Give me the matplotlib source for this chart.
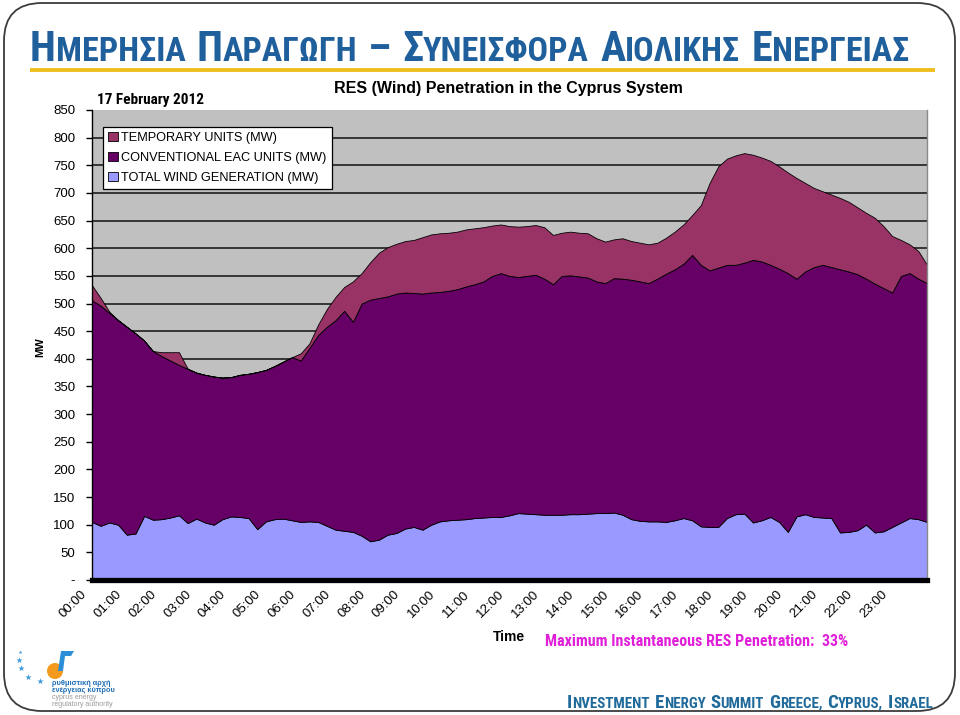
import numpy as np
import matplotlib
matplotlib.use('Agg')
import matplotlib.pyplot as plt
from matplotlib import font_manager as fm
from matplotlib.patches import FancyBboxPatch, Circle, Polygon
from matplotlib.transforms import ScaledTranslation

# ---------------- data (MW, 15-minute resolution, 00:00 .. 24:00) ----------------
hours = np.arange(0, 24.01, 0.25)
hour_labels = ['%02d:00' % h for h in range(24)]

wind = [105, 98, 104, 100,   82, 84, 116, 109,   110, 113, 117, 103,   111, 104, 100, 110,
        115, 114, 112, 92,   106, 110, 111, 108,   105, 106, 105, 98,   91, 89, 87, 80,
        70, 73, 82, 85,      93, 96, 91, 100,      106, 108, 109, 110,  112, 113, 114, 114,
        117, 121, 120, 119,  118, 118, 118, 119,   119, 120, 121, 121,  122, 118, 110, 107,
        106, 106, 105, 108,  112, 108, 97, 96,     96, 112, 119, 120,   104, 108, 114, 105,
        87, 115, 119, 114,   113, 112, 86, 87,     90, 100, 86, 88,     96, 104, 112, 110,
        105]

conventional = [401, 398, 379, 370,  376, 362, 317, 305,  295, 284, 272, 279,  264, 267, 268, 256,
                252, 257, 261, 284,  274, 277, 284, 295,  292, 314, 338, 360,  379, 398, 380, 420,
                437, 437, 431, 433,  427, 423, 427, 420,  415, 415, 417, 421,  423, 427, 436, 441,
                433, 427, 430, 433,  427, 417, 432, 432,  430, 427, 419, 416,  424, 427, 433, 433,
                431, 439, 449, 454,  460, 480, 473, 464,  469, 458, 451, 454,  475, 468, 456, 458,
                468, 430, 439, 452,  457, 454, 476, 471,  463, 445, 450, 440,  424, 446, 443, 435,
                432]

temporary = [27, 14, 2, 0,     0, 0, 0, 0,       7, 15, 23, 0,     0, 0, 0, 0,
             0, 0, 0, 0,       0, 0, 0, 0,       13, 8, 19, 32,    42, 43, 73, 55,
             68, 82, 89, 90,   93, 96, 102, 105, 106, 105, 104, 103, 101, 98, 91, 88,
             90, 91, 90, 90,   93, 89, 78, 79,   79, 80, 78, 75,   70, 73, 70, 70,
             70, 65, 65, 68,   71, 72, 108, 158, 183, 192, 198, 198, 190, 188, 188, 185,
             182, 182, 160, 143, 133, 131, 129, 126, 121, 119, 119, 112, 102, 65, 52, 50,
             33]

series_labels = ['TOTAL WIND GENERATION (MW)', 'CONVENTIONAL EAC UNITS (MW)', 'TEMPORARY UNITS (MW)']
series_colors = ['#9999FF', '#660066', '#993366']
y_ticks = list(range(0, 851, 50))
y_ticklabels = ['-'] + [str(v) for v in y_ticks[1:]]

W, H = 960, 715


def pick(cands, default='DejaVu Sans'):
    for c in cands:
        try:
            fm.findfont(fm.FontProperties(family=c), fallback_to_default=False)
            return c
        except Exception:
            pass
    return default


ARIAL = pick(['Liberation Sans', 'Arial'])
NARROW = pick(['Liberation Sans Narrow', 'Arial Narrow', 'Roboto Condensed'], ARIAL)
TITLEF = NARROW

fig = plt.figure(figsize=(9.6, 7.15), dpi=100)
fig.patch.set_facecolor('white')

# overlay for slide decorations
ov = fig.add_axes([0, 0, 1, 1])
ov.set_xlim(0, W)
ov.set_ylim(H, 0)
ov.axis('off')
ov.set_zorder(0)
ov.add_patch(FancyBboxPatch((4, 3), 951, 708, boxstyle='round,pad=0,rounding_size=38',
                            fill=False, ec='#3c3c3c', lw=1.3))
ov.plot([30, 935], [70, 70], color='#F0BE1E', lw=2.8, solid_capstyle='butt')

# logo
for (sx, sy, ss) in [(20, 652, 8), (19, 660, 22), (21, 668, 22), (28, 677, 22), (40, 681, 22)]:
    ov.scatter([sx], [sy], marker='*', s=ss, color='#3A9AD9', lw=0)
ov.add_patch(Circle((55, 671), 8, color='#F39A1E', lw=0))
ov.add_patch(Polygon([(58, 671), (61, 651), (74, 651), (71, 656), (65, 656), (63, 671)],
                     closed=True, color='#2A8FD8', lw=0))
fig.text(52 / W, 1 - 685 / H, 'ρυθμιστική αρχή', fontsize=5.3, color='#1F6FB8',
         fontweight='bold', family=ARIAL, va='baseline')
fig.text(52 / W, 1 - 692 / H, 'ενέργειας κύπρου', fontsize=5.3, color='#1F6FB8',
         fontweight='bold', family=ARIAL, va='baseline')
fig.text(52 / W, 1 - 699 / H, 'cyprus energy', fontsize=5, color='#9a9a9a',
         family=ARIAL, va='baseline')
fig.text(52 / W, 1 - 706 / H, 'regulatory authority', fontsize=5, color='#9a9a9a',
         family=ARIAL, va='baseline')

renderer = fig.canvas.get_renderer()


def smallcaps(words, x0, x1, y_base, big, small, color, family, weight='normal'):
    """words: list of (first, rest). Draws small-caps text fitted between x0 and x1."""
    def build(scale):
        objs = []
        x = x0
        for i, (a, b) in enumerate(words):
            for s, sz in ((a, big * scale), (b, small * scale)):
                if not s:
                    continue
                t = fig.text(x / W, 1 - y_base / H, s, fontsize=sz, color=color,
                             family=family, fontweight=weight, va='baseline', ha='left')
                objs.append(t)
                x += t.get_window_extent(renderer).width
            x += 0.26 * big * scale * 100 / 72
        x -= 0.26 * big * scale * 100 / 72
        return objs, x
    objs, xe = build(1.0)
    scale = (x1 - x0) / (xe - x0)
    for o in objs:
        o.remove()
    build(scale)


smallcaps([('Η', 'ΜΕΡΗΣΙΑ'), ('Π', 'ΑΡΑΓΩΓΗ'), ('–', ''), ('Σ', 'ΥΝΕΙΣΦΟΡΑ'),
           ('Α', 'ΙΟΛΙΚΗΣ'), ('Ε', 'ΝΕΡΓΕΙΑΣ')],
          30, 910, 61, 29, 23.5, '#1F5F9C', TITLEF, 'bold')
smallcaps([('I', 'NVESTMENT'), ('E', 'NERGY'), ('S', 'UMMIT'), ('G', 'REECE,'),
           ('C', 'YPRUS,'), ('I', 'SRAEL')],
          567, 933, 708, 15, 12, '#1F6A9A', TITLEF, 'bold')

# ---------------- main chart ----------------
left, right, top, bottom = 92, 927, 110, 580
ax = fig.add_axes([left / W, 1 - bottom / H, (right - left) / W, (bottom - top) / H])
ax.set_zorder(2)
ax.set_facecolor('#C0C0C0')

for v in y_ticks[1:-1]:
    ax.axhline(v, color='#111111', lw=1.1, zorder=1)

polys = ax.stackplot(hours, wind, conventional, temporary, colors=series_colors,
                     labels=series_labels, edgecolor='black', linewidth=0.6, zorder=2)

ax.set_xlim(0, 24)
ax.set_ylim(0, 850)
ax.set_yticks(y_ticks)
ax.set_yticklabels(y_ticklabels, fontsize=9.5, family=ARIAL)
ax.set_xticks(range(24))
ax.set_xticklabels(hour_labels, fontsize=9.5, family=ARIAL, rotation=45,
                   ha='right', va='center', rotation_mode='anchor')
ax.tick_params(axis='x', length=0, pad=9)
ax.tick_params(axis='y', length=4, width=1, pad=8, direction='out')
off = ScaledTranslation(-7 / 100, 0, fig.dpi_scale_trans)
for lab in ax.get_xticklabels():
    lab.set_transform(lab.get_transform() + off)

ax.spines['top'].set_visible(False)
ax.spines['right'].set_color('#8a8a8a')
ax.spines['right'].set_linewidth(1.0)
ax.spines['left'].set_color('black')
ax.spines['left'].set_linewidth(1.0)
ax.spines['bottom'].set_color('black')
ax.spines['bottom'].set_linewidth(3.8)
ax.spines['bottom'].set_zorder(5)

handles = polys[::-1]
labels = series_labels[::-1]
leg = ax.legend(handles, labels, loc='upper left', bbox_to_anchor=(0.013, 0.964),
                frameon=True, fancybox=False, shadow=False,
                prop={'family': ARIAL, 'size': 9.2},
                handlelength=0.75, handleheight=0.75, handletextpad=0.3,
                labelspacing=0.6, borderpad=0.4, borderaxespad=0)
leg.get_frame().set_edgecolor('black')
leg.get_frame().set_linewidth(0.9)
leg.get_frame().set_facecolor('white')
leg.get_frame().set_alpha(1)
leg.set_zorder(10)

# chart texts
fig.text(508 / W, 1 - 88 / H, 'RES (Wind) Penetration in the Cyprus System', fontsize=11.5,
         fontweight='bold', family=ARIAL, ha='center', va='center', color='black')
fig.text(97 / W, 1 - 100 / H, '17 February 2012', fontsize=11, fontweight='bold',
         family=NARROW, ha='left', va='center', color='black')
fig.text(40 / W, 1 - 347 / H, 'MW', fontsize=8, fontweight='bold', family=ARIAL,
         rotation=90, ha='center', va='center')
fig.text(509 / W, 1 - 637 / H, 'Time', fontsize=10, fontweight='bold', family=ARIAL,
         ha='center', va='center')
fig.text(545 / W, 1 - 641 / H, 'Maximum Instantaneous RES Penetration:  33%', fontsize=11.5,
         fontweight='bold', family=NARROW, color='#E020D8', ha='left', va='center')

fig.savefig('out.png', dpi=100)
